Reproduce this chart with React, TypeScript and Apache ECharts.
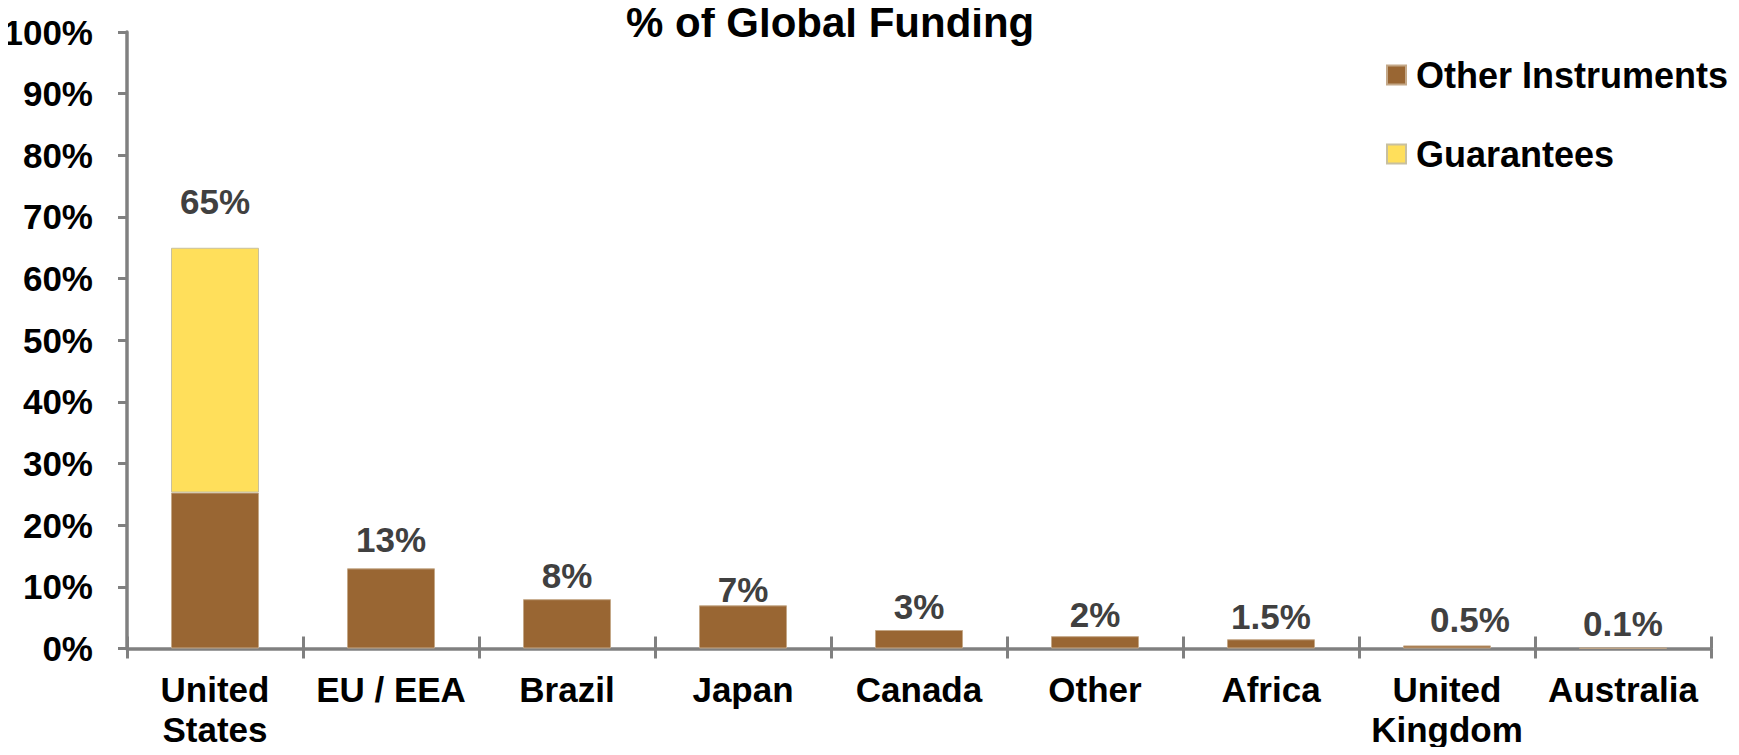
import React, { useEffect, useRef } from "react";
import * as echarts from "echarts";

const categories = [
  "United\nStates",
  "EU / EEA",
  "Brazil",
  "Japan",
  "Canada",
  "Other",
  "Africa",
  "United\nKingdom",
  "Australia",
];
const otherInstruments = [25.3, 13, 8, 7, 3, 2, 1.5, 0.5, 0.1];
const guarantees = [39.7, 0, 0, 0, 0, 0, 0, 0, 0];
const yTicks = [0, 10, 20, 30, 40, 50, 60, 70, 80, 90, 100];
// small manual label nudges (x, y) as in the original layout
const labelNudgeX = [0, 0, 0, 0, 0, 0, 0, 23, 0];
const labelNudgeY = [-23, -5, 0, 8, 0, 2, 1, -2, -1];

const FONT = "'Liberation Sans', Arial, Helvetica, sans-serif";
const BROWN = "#996633";
const YELLOW = "#FFDF5B";
const AXIS = "#808080";

export default function App() {
  const ref = useRef<HTMLDivElement>(null);

  useEffect(() => {
    if (!ref.current) return;
    const chart = echarts.init(ref.current, null, { renderer: "svg" });
    const totals = otherInstruments.map(
      (v, i) => Math.round((v + guarantees[i]) * 10) / 10
    );
    const lbl = (i: number, show: boolean) => ({
      show,
      position: "top",
      distance: 6,
      offset: [labelNudgeX[i], labelNudgeY[i]],
      formatter: () => totals[i] + "%",
      color: "#404040",
      fontSize: 35,
      fontWeight: "bold",
      fontFamily: FONT,
    });
    const otherData = otherInstruments.map((v, i) => ({
      value: v,
      label: lbl(i, !(guarantees[i] > 0)),
    }));
    const guarData = guarantees.map((v, i) => ({
      value: v > 0 ? v : null,
      label: lbl(i, v > 0),
    }));

    chart.setOption({
      animation: false,
      backgroundColor: "#ffffff",
      textStyle: { fontFamily: FONT },
      title: {
        text: "% of Global Funding",
        left: 626,
        top: 1,
        padding: 0,
        textStyle: {
          fontSize: 42,
          fontWeight: "bold",
          color: "#000000",
          fontFamily: FONT,
        },
      },
      legend: {
        orient: "vertical",
        left: 1386,
        top: 57,
        itemWidth: 19,
        itemHeight: 19,
        itemGap: 43,
        icon: "rect",
        padding: 0,
        data: ["Other Instruments", "Guarantees"],
        textStyle: {
          fontSize: 36,
          fontWeight: "bold",
          color: "#000000",
          fontFamily: FONT,
          padding: [0, 0, 0, 5],
        },
      },
      grid: {
        left: 127,
        right: 28,
        top: 32,
        bottom: 106.5,
        containLabel: false,
      },
      xAxis: [
        {
          type: "category",
          data: categories,
          position: "bottom",
          boundaryGap: true,
          axisLine: { show: true, lineStyle: { color: AXIS, width: 3.5 } },
          axisTick: {
            show: true,
            inside: false,
            length: 10,
            interval: 0,
            lineStyle: { color: AXIS, width: 3 },
          },
          axisLabel: {
            interval: 0,
            margin: 21,
            fontSize: 35,
            fontWeight: "bold",
            color: "#000000",
            fontFamily: FONT,
            lineHeight: 40,
          },
          splitLine: { show: false },
        },
        {
          type: "category",
          data: categories,
          position: "bottom",
          boundaryGap: true,
          axisLine: { show: false },
          axisTick: {
            show: true,
            inside: true,
            length: 12,
            interval: 0,
            lineStyle: { color: AXIS, width: 3 },
          },
          axisLabel: { show: false },
          splitLine: { show: false },
        },
      ],
      yAxis: {
        type: "value",
        min: yTicks[0],
        max: yTicks[yTicks.length - 1],
        interval: yTicks[1] - yTicks[0],
        axisLine: { show: true, lineStyle: { color: AXIS, width: 3.5 } },
        axisTick: {
          show: true,
          inside: false,
          length: 9,
          lineStyle: { color: AXIS, width: 3 },
        },
        axisLabel: {
          formatter: "{value}%",
          margin: 34,
          fontSize: 35,
          fontWeight: "bold",
          color: "#000000",
          fontFamily: FONT,
        },
        splitLine: { show: false },
      },
      series: [
        {
          name: "Other Instruments",
          type: "bar",
          stack: "total",
          xAxisIndex: 0,
          barWidth: "50%",
          itemStyle: { color: BROWN, borderColor: "#c4a888", borderWidth: 1 },
          data: otherData,
        },
        {
          name: "Guarantees",
          type: "bar",
          stack: "total",
          xAxisIndex: 0,
          barWidth: "50%",
          itemStyle: { color: YELLOW, borderColor: "#c8c0a0", borderWidth: 1 },
          data: guarData,
        },
      ],
    });

    return () => chart.dispose();
  }, []);

  return <div ref={ref} style={{ width: 1739, height: 755, margin: -8 }} />;
}
